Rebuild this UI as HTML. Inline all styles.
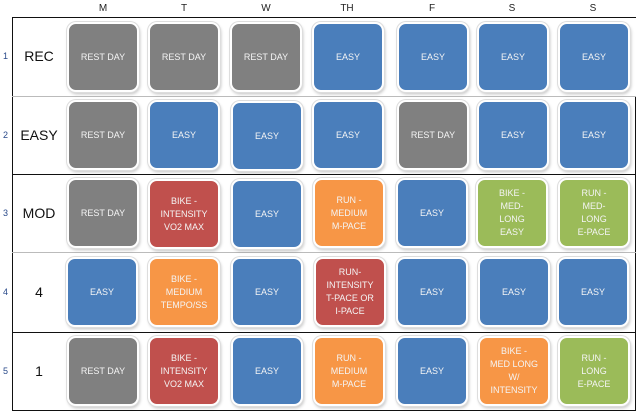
<!DOCTYPE html><html><head><style>
body{margin:0;width:640px;height:413px;background:#fff;position:relative;overflow:hidden;font-family:"Liberation Sans",sans-serif}
.h{position:absolute;top:3px;width:40px;margin-left:-20px;text-align:center;font-size:10px;color:#222}
.l{position:absolute;background:#111}
.g{position:absolute;background:#bbb}
.n{position:absolute;left:3px;font-size:9px;color:#2a4a8a}
.r{position:absolute;left:14px;width:50px;text-align:center;font-size:14px;color:#111}
.b{position:absolute;width:68px;height:66px;border-radius:9px;border:2px solid #fff;box-shadow:0 0 0 1px #ddd,1px 2px 3px rgba(0,0,0,.25);display:flex;align-items:center;justify-content:center;text-align:center;color:#f4f4f4;font-size:9px;line-height:13px}
.G{background:#808080}.B{background:#4a7ebb}.R{background:#c0504d}.O{background:#f79646}.N{background:#9bbb59}
</style></head><body>
<div class="h" style="left:103px">M</div><div class="h" style="left:184px">T</div><div class="h" style="left:266px">W</div><div class="h" style="left:347px">TH</div><div class="h" style="left:432px">F</div><div class="h" style="left:512px">S</div><div class="h" style="left:593px">S</div>
<div class="l" style="left:12px;top:17px;width:1px;height:394px"></div>
<div class="l" style="left:12px;top:17px;width:624px;height:1px"></div>
<div class="l" style="left:635px;top:96px;width:1px;height:315px"></div>
<div class="l" style="left:12px;top:410px;width:624px;height:1px"></div>
<div class="g" style="left:12px;top:96px;width:624px;height:1px"></div>
<div class="l" style="left:12px;top:174px;width:624px;height:1px"></div>
<div class="g" style="left:12px;top:252px;width:624px;height:1px"></div>
<div class="l" style="left:12px;top:332px;width:624px;height:1px"></div>
<div class="n" style="top:51px">1</div><div class="r" style="top:48px">REC</div>
<div class="n" style="top:130px">2</div><div class="r" style="top:127px">EASY</div>
<div class="n" style="top:208px">3</div><div class="r" style="top:205px">MOD</div>
<div class="n" style="top:287px">4</div><div class="r" style="top:284px">4</div>
<div class="n" style="top:366px">5</div><div class="r" style="top:363px">1</div>

<div class="b G" style="left:67px;top:22px">REST DAY</div>
<div class="b G" style="left:148px;top:22px">REST DAY</div>
<div class="b G" style="left:230px;top:22px">REST DAY</div>
<div class="b B" style="left:312px;top:22px">EASY</div>
<div class="b B" style="left:397px;top:22px">EASY</div>
<div class="b B" style="left:477px;top:22px">EASY</div>
<div class="b B" style="left:558px;top:22px">EASY</div>

<div class="b G" style="left:67px;top:100px">REST DAY</div>
<div class="b B" style="left:148px;top:100px">EASY</div>
<div class="b B" style="left:231px;top:101px">EASY</div>
<div class="b B" style="left:312px;top:100px">EASY</div>
<div class="b G" style="left:397px;top:100px">REST DAY</div>
<div class="b B" style="left:477px;top:100px">EASY</div>
<div class="b B" style="left:558px;top:100px">EASY</div>

<div class="b G" style="left:67px;top:178px">REST DAY</div>
<div class="b R" style="left:148px;top:179px">BIKE -<br>INTENSITY<br>VO2 MAX</div>
<div class="b B" style="left:231px;top:179px">EASY</div>
<div class="b O" style="left:313px;top:178px">RUN -<br>MEDIUM<br>M-PACE</div>
<div class="b B" style="left:396px;top:178px">EASY</div>
<div class="b N" style="left:476px;top:178px">BIKE -<br>MED-<br>LONG<br>EASY</div>
<div class="b N" style="left:558px;top:178px">RUN -<br>MED-<br>LONG<br>E-PACE</div>

<div class="b B" style="left:66px;top:257px">EASY</div>
<div class="b O" style="left:148px;top:257px">BIKE -<br>MEDIUM<br>TEMPO/SS</div>
<div class="b B" style="left:231px;top:257px">EASY</div>
<div class="b R" style="left:314px;top:257px">RUN-<br>INTENSITY<br>T-PACE OR<br>I-PACE</div>
<div class="b B" style="left:396px;top:257px">EASY</div>
<div class="b B" style="left:478px;top:257px">EASY</div>
<div class="b B" style="left:557px;top:257px">EASY</div>

<div class="b G" style="left:67px;top:336px">REST DAY</div>
<div class="b R" style="left:148px;top:336px">BIKE -<br>INTENSITY<br>VO2 MAX</div>
<div class="b B" style="left:231px;top:336px">EASY</div>
<div class="b O" style="left:313px;top:336px">RUN -<br>MEDIUM<br>M-PACE</div>
<div class="b B" style="left:396px;top:336px">EASY</div>
<div class="b O" style="left:478px;top:336px">BIKE -<br>MED LONG<br>W/<br>INTENSITY</div>
<div class="b N" style="left:558px;top:336px">RUN -<br>LONG<br>E-PACE</div>
</body></html>
